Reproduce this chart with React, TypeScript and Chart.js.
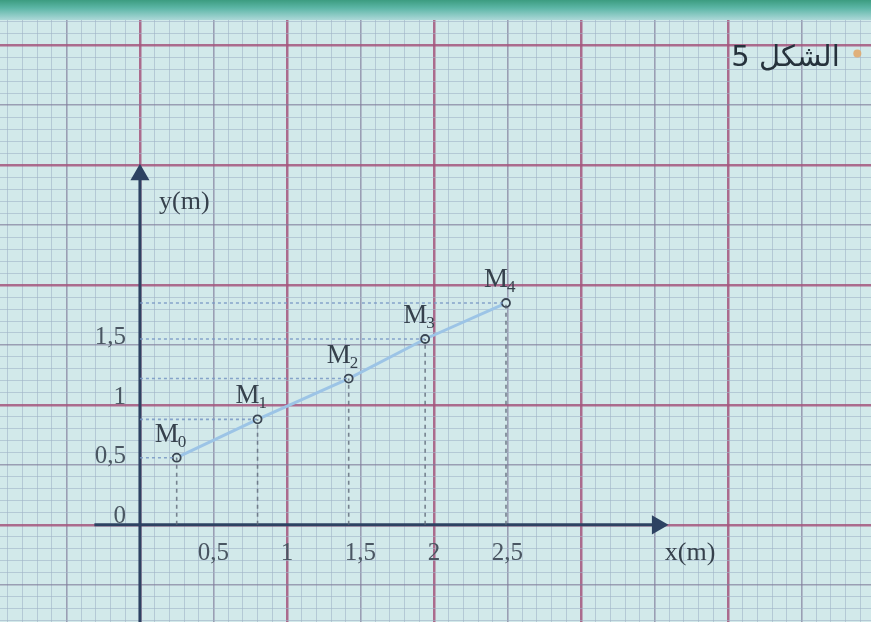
import React, { useEffect, useRef } from "react";
import { Chart, registerables } from "chart.js";

Chart.register(...registerables);

// ---- data ----
const pointNames = ["M", "M", "M", "M", "M"];
const pointIndices = ["0", "1", "2", "3", "4"];
const xValues = [0.25, 0.8, 1.42, 1.94, 2.49];
const yValues = [0.56, 0.88, 1.22, 1.55, 1.85];
const xTickLabels = [0.5, 1, 1.5, 2, 2.5];
const yTickLabels = [0, 0.5, 1, 1.5];
const xAxisExtent = [-0.31, 3.52];
const yAxisExtent = [-0.85, 2.92];
const xRange = [-0.952, 4.973];
const yRange = [-0.81, 4.21];
const xAxisTitle = "x(m)";
const yAxisTitle = "y(m)";
const figureTitle = "الشكل 5";

const PAPER = "#d2e9ea";

function gridTicks(min: number, max: number) {
  const out: { value: number }[] = [];
  const a = Math.ceil(min * 10);
  const b = Math.floor(max * 10);
  for (let i = a; i <= b; i++) out.push({ value: i / 10 });
  return out;
}

function gridColor(v: number) {
  const i = Math.round(v * 10);
  if (i % 10 === 0) return "rgba(165,85,125,0.85)";
  if (i % 5 === 0) return "rgba(130,125,155,0.7)";
  return "rgba(160,180,198,0.6)";
}
function gridWidth(v: number) {
  const i = Math.round(v * 10);
  if (i % 10 === 0) return 2.5;
  if (i % 5 === 0) return 1.6;
  return 1;
}
function fmt(v: number) {
  return String(v).replace(".", ",");
}

const paperPlugin = {
  id: "paper",
  beforeDraw(chart: any) {
    const { ctx, chartArea } = chart;
    ctx.save();
    ctx.fillStyle = PAPER;
    ctx.fillRect(chartArea.left, chartArea.top, chartArea.right - chartArea.left, chartArea.bottom - chartArea.top);
    ctx.restore();
  },
};

const textPlugin = {
  id: "texts",
  afterDatasetsDraw(chart: any) {
    const { ctx, scales } = chart;
    const xs = scales.x;
    const ys = scales.y;
    const x0 = xs.getPixelForValue(0);
    const y0 = ys.getPixelForValue(0);
    ctx.save();
    // tick labels
    ctx.fillStyle = "#4a5662";
    ctx.font = '25px "Liberation Serif"';
    ctx.textAlign = "center";
    ctx.textBaseline = "top";
    xTickLabels.forEach((v) => {
      ctx.fillText(fmt(v), xs.getPixelForValue(v), y0 + 16);
    });
    ctx.textAlign = "right";
    ctx.textBaseline = "middle";
    yTickLabels.forEach((v) => {
      ctx.fillText(fmt(v), x0 - 14, ys.getPixelForValue(v) - 8);
    });

    ctx.fillStyle = "#36414c";
    ctx.textBaseline = "alphabetic";
    // point labels
    xValues.forEach((xv, i) => {
      const px = xs.getPixelForValue(xv);
      const py = ys.getPixelForValue(yValues[i]);
      ctx.font = '27px "Liberation Serif"';
      ctx.textAlign = "left";
      const lx = px - 22;
      const ly = py - 16;
      ctx.fillText(pointNames[i], lx, ly);
      const w = ctx.measureText(pointNames[i]).width;
      ctx.font = '17px "Liberation Serif"';
      ctx.fillText(pointIndices[i], lx + w - 1, ly + 5);
    });
    // axis titles
    ctx.font = '26px "Liberation Serif"';
    ctx.textAlign = "left";
    ctx.fillText(yAxisTitle, xs.getPixelForValue(0.13), ys.getPixelForValue(2.63));
    ctx.fillText(xAxisTitle, xs.getPixelForValue(3.57), ys.getPixelForValue(-0.29));
    // figure title (Arabic)
    ctx.font = '29px "DejaVu Sans"';
    ctx.direction = "rtl";
    ctx.textAlign = "right";
    ctx.fillStyle = "#26323c";
    ctx.fillText(figureTitle, xs.getPixelForValue(4.76), ys.getPixelForValue(3.83));
    ctx.direction = "ltr";
    ctx.fillStyle = "rgba(225,170,110,0.9)";
    ctx.beginPath();
    ctx.arc(xs.getPixelForValue(4.88), ys.getPixelForValue(3.93), 4, 0, Math.PI * 2);
    ctx.fill();
    ctx.restore();
  },
};

export default function App() {
  const ref = useRef<HTMLCanvasElement | null>(null);
  useEffect(() => {
    if (!ref.current) return;
    const pts = xValues.map((x, i) => ({ x, y: yValues[i] }));
    const vert: any[] = [];
    const horiz: any[] = [];
    xValues.forEach((x, i) => {
      vert.push({ x, y: 0 }, { x, y: yValues[i] }, { x, y: null });
      horiz.push({ x: 0, y: yValues[i] }, { x, y: yValues[i] }, { x: null, y: null });
    });
    const gridScale = (range: number[]) => ({
      type: "linear",
      min: range[0],
      max: range[1],
      afterBuildTicks: (s: any) => {
        s.ticks = gridTicks(range[0], range[1]);
      },
      grid: {
        drawTicks: false,
        color: (c: any) => gridColor(c.tick.value),
        lineWidth: (c: any) => gridWidth(c.tick.value),
      },
      border: { display: false },
      ticks: { display: false, autoSkip: false },
    });
    const chart = new Chart(ref.current, {
      type: "scatter",
      data: {
        datasets: [
          {
            data: vert,
            showLine: true,
            spanGaps: false,
            borderColor: "rgba(95,105,120,0.8)",
            borderWidth: 1.6,
            borderDash: [4, 4],
            pointRadius: 0,
          } as any,
          {
            data: horiz,
            showLine: true,
            spanGaps: false,
            borderColor: "rgba(120,150,195,0.85)",
            borderWidth: 1.6,
            borderDash: [3, 3],
            pointRadius: 0,
          } as any,
          {
            data: [
              { x: xAxisExtent[0], y: 0 },
              { x: xAxisExtent[1], y: 0 },
            ],
            showLine: true,
            borderColor: "#2d4262",
            borderWidth: 3,
            pointRadius: [0, 8],
            pointStyle: "triangle",
            rotation: 90,
            pointBackgroundColor: "#2d4262",
            pointBorderColor: "#2d4262",
          } as any,
          {
            data: [
              { x: 0, y: yAxisExtent[0] },
              { x: 0, y: yAxisExtent[1] },
            ],
            showLine: true,
            borderColor: "#2d4262",
            borderWidth: 3,
            pointRadius: [0, 8],
            pointStyle: "triangle",
            rotation: 0,
            pointBackgroundColor: "#2d4262",
            pointBorderColor: "#2d4262",
          } as any,
          {
            data: pts,
            showLine: true,
            borderColor: "#9cc4e6",
            borderWidth: 3,
            pointRadius: 4,
            pointBorderWidth: 1.8,
            pointBorderColor: "#3a4552",
            pointBackgroundColor: PAPER,
          } as any,
        ],
      },
      options: {
        animation: false,
        responsive: false,
        maintainAspectRatio: false,
        layout: { autoPadding: false, padding: { top: 20, left: 0, right: 0, bottom: 0 } },
        plugins: { legend: { display: false }, tooltip: { enabled: false }, title: { display: false } },
        scales: {
          x: { ...gridScale(xRange), position: "bottom" } as any,
          y: { ...gridScale(yRange), position: "left" } as any,
        },
      },
      plugins: [paperPlugin, textPlugin],
    });
    return () => chart.destroy();
  }, []);
  return (
    <div
      style={{
        position: "fixed",
        left: 0,
        top: 0,
        width: 871,
        height: 622,
        background: "linear-gradient(#3c9c80 0px, #5cb6a6 8px, #9fd2d0 18px, #d2e9ea 26px)",
      }}
    >
      <canvas ref={ref} width={871} height={622} style={{ display: "block" }} />
    </div>
  );
}
